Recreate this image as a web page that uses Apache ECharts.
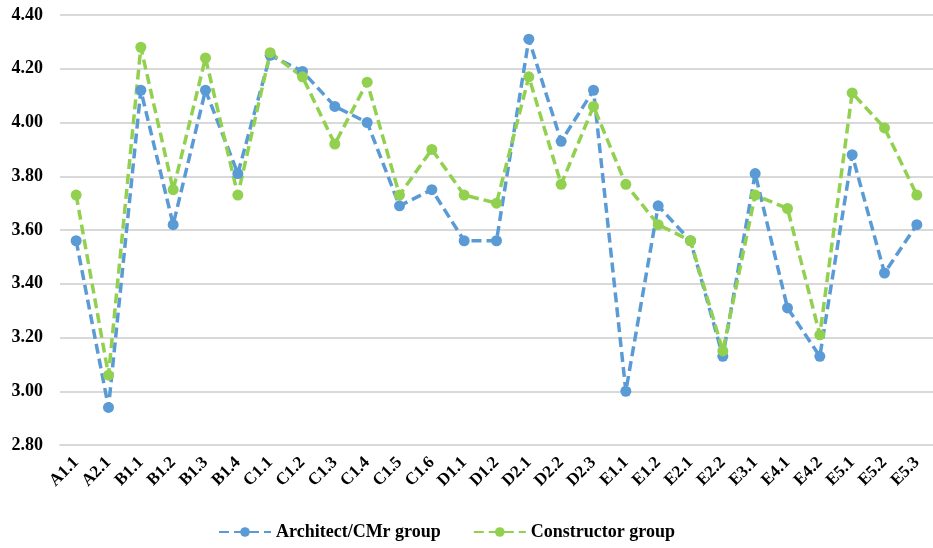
<!DOCTYPE html>
<html>
<head>
<meta charset="utf-8">
<script src="https://cdn.jsdelivr.net/npm/echarts@6/dist/echarts.min.js"></script>
<style>
  html, body { margin: 0; padding: 0; background: #fff; }
  #chart { width: 933px; height: 548px; }
</style>
</head>
<body>
<div id="chart"></div>
<script>
var categories = ['A1.1', 'A2.1', 'B1.1', 'B1.2', 'B1.3', 'B1.4', 'C1.1', 'C1.2', 'C1.3', 'C1.4', 'C1.5', 'C1.6',
  'D1.1', 'D1.2', 'D2.1', 'D2.2', 'D2.3', 'E1.1', 'E1.2', 'E2.1', 'E2.2', 'E3.1', 'E4.1', 'E4.2', 'E5.1', 'E5.2', 'E5.3']
var architect = [3.56, 2.94, 4.12, 3.62, 4.12, 3.81, 4.25, 4.19, 4.06, 4.00, 3.69, 3.75,
  3.56, 3.56, 4.31, 3.93, 4.12, 3.00, 3.69, 3.56, 3.13, 3.81, 3.31, 3.13, 3.88, 3.44, 3.62]
var constructor_ = [3.73, 3.06, 4.28, 3.75, 4.24, 3.73, 4.26, 4.17, 3.92, 4.15, 3.73, 3.90,
  3.73, 3.70, 4.17, 3.77, 4.06, 3.77, 3.62, 3.56, 3.15, 3.73, 3.68, 3.21, 4.11, 3.98, 3.73]

var font = "'Liberation Serif', 'Times New Roman', serif"

var chart = echarts.init(document.getElementById('chart'))
var option = {
  animation: false,
  backgroundColor: '#fff',
  grid: { left: 60, right: -8, top: 15, bottom: 103 },
  legend: {
    bottom: 2,
    left: 213,
    itemWidth: 52,
    itemHeight: 12,
    itemGap: 32,
    textStyle: { fontFamily: font, fontWeight: 'bold', fontSize: 18, color: '#000' },
    data: ['Architect/CMr group', 'Constructor group']
  },
  xAxis: {
    type: 'category',
    data: categories,
    axisLine: { lineStyle: { color: '#d9d9d9', width: 2 } },
    axisTick: { show: false },
    axisLabel: {
      rotate: 45,
      interval: 0,
      margin: 15,
      fontFamily: font,
      fontWeight: 'bold',
      fontSize: 17,
      color: '#000'
    }
  },
  yAxis: {
    type: 'value',
    min: 2.8,
    max: 4.4,
    interval: 0.2,
    axisLine: { show: false },
    axisTick: { show: false },
    splitLine: { lineStyle: { color: '#d9d9d9', width: 2 } },
    axisLabel: {
      margin: 17,
      fontFamily: font,
      fontWeight: 'bold',
      fontSize: 18,
      color: '#000',
      formatter: function (v) { return v.toFixed(2) }
    }
  },
  series: [
    {
      name: 'Architect/CMr group',
      type: 'line',
      data: architect,
      symbol: 'circle',
      symbolSize: 11,
      itemStyle: { color: '#5b9bd5' },
      lineStyle: { color: '#5b9bd5', width: 3.5, type: [10, 5] }
    },
    {
      name: 'Constructor group',
      type: 'line',
      data: constructor_,
      symbol: 'circle',
      symbolSize: 11,
      itemStyle: { color: '#92d050' },
      lineStyle: { color: '#92d050', width: 3.5, type: [10, 5] }
    }
  ]
}
chart.setOption(option)
window.addEventListener('resize', function () {
  chart.resize()
})
</script>
</body>
</html>
